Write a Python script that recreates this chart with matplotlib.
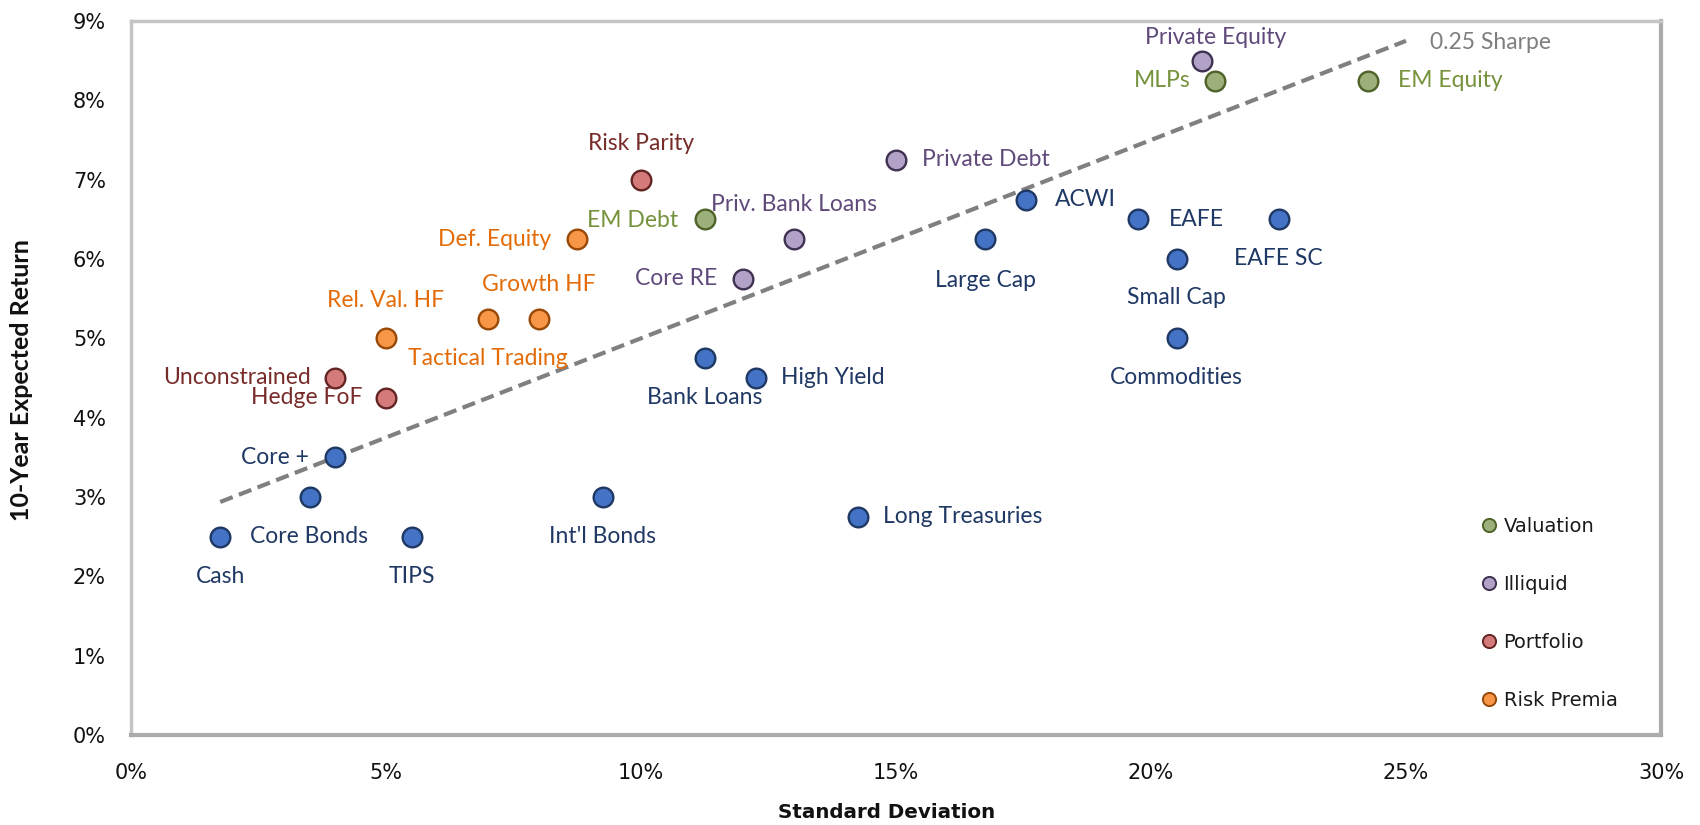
import matplotlib
matplotlib.use("Agg")
import matplotlib.pyplot as plt
from matplotlib.ticker import FuncFormatter, MultipleLocator
from matplotlib.lines import Line2D

# ---------------- data ----------------
names = ["Cash", "Core Bonds", "Core +", "TIPS", "Int'l Bonds", "Long Treasuries",
         "Bank Loans", "High Yield", "Large Cap", "ACWI", "EAFE", "EAFE SC",
         "Small Cap", "Commodities",
         "MLPs", "EM Equity", "EM Debt",
         "Private Equity", "Private Debt", "Priv. Bank Loans", "Core RE",
         "Risk Parity", "Unconstrained", "Hedge FoF",
         "Def. Equity", "Growth HF", "Tactical Trading", "Rel. Val. HF"]
std_dev = [1.75, 3.5, 4.0, 5.5, 9.25, 14.25,
           11.25, 12.25, 16.75, 17.55, 19.75, 22.5,
           20.5, 20.5,
           21.25, 24.25, 11.25,
           21.0, 15.0, 13.0, 12.0,
           10.0, 4.0, 5.0,
           8.75, 8.0, 7.0, 5.0]
exp_return = [2.5, 3.0, 3.5, 2.5, 3.0, 2.75,
              4.75, 4.5, 6.25, 6.75, 6.5, 6.5,
              6.0, 5.0,
              8.25, 8.25, 6.5,
              8.5, 7.25, 6.25, 5.75,
              7.0, 4.5, 4.25,
              6.25, 5.25, 5.25, 5.0]
group = ["Core"] * 14 + ["Valuation"] * 3 + ["Illiquid"] * 4 + ["Portfolio"] * 3 + ["Risk Premia"] * 4

legend_groups = ["Valuation", "Illiquid", "Portfolio", "Risk Premia"]
risk_free = 2.5
sharpe = 0.25
sharpe_x = [1.75, 25.0]

# ---------------- styles ----------------
fill = {"Core": "#4472C4", "Valuation": "#9BB07A", "Illiquid": "#B3A2C7",
        "Portfolio": "#D47A7A", "Risk Premia": "#F79646"}
edge = {"Core": "#1F3864", "Valuation": "#4F6228", "Illiquid": "#3F3151",
        "Portfolio": "#632523", "Risk Premia": "#984807"}
tcol = {"Core": "#1F3864", "Valuation": "#76923C", "Illiquid": "#604A7B",
        "Portfolio": "#772C2A", "Risk Premia": "#E36C09"}

# label placement: (dx pt, dy pt, ha)
B = (0, -28.5, "center")
R = (-18.5, 0, "right")
place = {
    "Cash": B, "Core Bonds": B, "Core +": R, "TIPS": B,
    "Int'l Bonds": B, "Long Treasuries": (18, 0, "left"), "Bank Loans": B,
    "High Yield": (18, 0, "left"), "Large Cap": (0, -29.5, "center"), "ACWI": (21, 0, "left"),
    "EAFE": (22, 0, "left"), "EAFE SC": B, "Small Cap": (0, -27.5, "center"), "Commodities": B,
    "MLPs": (-17.5, 0, "right"), "EM Equity": (22, 0, "left"),
    "EM Debt": (-19, -1, "right"), "Private Equity": (9.6, 17, "center"),
    "Private Debt": (18.5, 0, "left"), "Priv. Bank Loans": (0, 25, "center"),
    "Core RE": R, "Risk Parity": (0, 26, "center"),
    "Unconstrained": (-17.5, 0, "right"), "Hedge FoF": (-17, 0, "right"),
    "Def. Equity": R, "Growth HF": (0, 24.5, "center"),
    "Tactical Trading": (0, -28.5, "center"), "Rel. Val. HF": (0, 27, "center"),
}

LBL_FONT = "Lato"
LBL_SIZE = 16.5
fig = plt.figure(figsize=(17, 8.25), dpi=100)
ax = fig.add_axes([131 / 1700, 90 / 825, 1530 / 1700, 714 / 825])

# Sharpe line
sy = [risk_free + sharpe * x for x in sharpe_x]
ax.plot(sharpe_x, sy, linestyle=(0, (3.2, 1.6)), color="#808080", lw=3, zorder=1)
ax.annotate(f"{sharpe} Sharpe", (sharpe_x[1], sy[1]), xytext=(17, -1), textcoords="offset points",
            ha="left", va="center", fontsize=LBL_SIZE, color="#7F7F7F", family=LBL_FONT)

for n, x, y, g in zip(names, std_dev, exp_return, group):
    ax.scatter([x], [y], s=200, c=fill[g], edgecolors=edge[g], linewidths=1.7, zorder=3)
    dx, dy, ha = place[n]
    ax.annotate(n, (x, y), xytext=(dx, dy), textcoords="offset points", ha=ha, va="center",
                fontsize=LBL_SIZE, color=tcol[g], family=LBL_FONT, zorder=4)

ax.set_xlim(0, 30)
ax.set_ylim(0, 9)
ax.xaxis.set_major_locator(MultipleLocator(5))
ax.yaxis.set_major_locator(MultipleLocator(1))
fmt = FuncFormatter(lambda v, p: f"{v:.0f}%")
ax.xaxis.set_major_formatter(fmt)
ax.yaxis.set_major_formatter(fmt)
ax.tick_params(length=0, labelsize=15, colors="#111111")
ax.tick_params(axis="x", pad=20)
ax.tick_params(axis="y", pad=18)
for lab in ax.get_xticklabels() + ax.get_yticklabels():
    lab.set_family("DejaVu Sans")
for side, s in ax.spines.items():
    if side in ("bottom", "right"):
        s.set_color("#ABABAB")
        s.set_linewidth(3)
    else:
        s.set_color("#C4C4C4")
        s.set_linewidth(2.5)

ax.set_xlabel("Standard Deviation", fontsize=14.3, fontweight="bold", family="DejaVu Sans", color="#111111")
ax.xaxis.set_label_coords((887 - 131) / 1530, -(813 - 735) / 714)
ax.xaxis.label.set_va("center")
ax.set_ylabel("10-Year Expected Return", fontsize=18, fontweight="bold", family="Lato", color="#111111")
ax.yaxis.set_label_coords((22 - 131) / 1530, (735 - 380) / 714)
ax.yaxis.label.set_va("center")

handles = [Line2D([], [], marker="o", linestyle="none", markersize=9.5, markerfacecolor=fill[g],
                  markeredgecolor=edge[g], markeredgewidth=1.4) for g in legend_groups]
ax.legend(handles, legend_groups, loc="center left", bbox_to_anchor=((1481 - 131) / 1530, 0.170),
          frameon=False, handlelength=0.8, handletextpad=0.36,
          labelspacing=2.0, borderaxespad=0, borderpad=0,
          prop={"family": "DejaVu Sans", "size": 14}, labelcolor="#1A1A1A")

fig.savefig("out.png", dpi=100)
